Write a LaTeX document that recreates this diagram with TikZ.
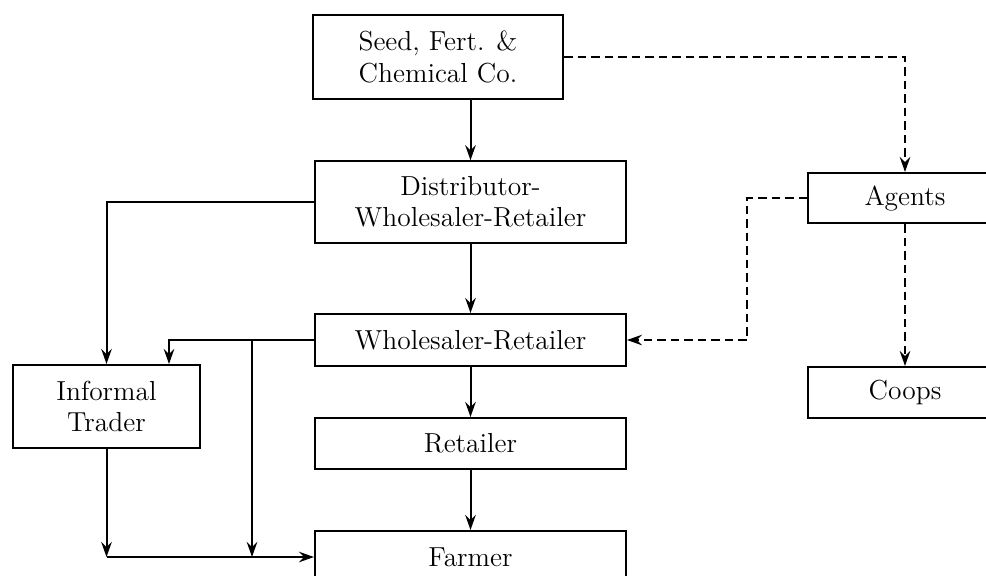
\documentclass[tikz,border=0pt]{standalone}
\usetikzlibrary{arrows.meta}
\tikzset{
    flowbox/.style={draw, line width=0.8pt, align=center, inner sep=0pt,
        font=\fontsize{11}{12.5}\selectfont},
    flowarrow/.style={line width=0.8pt, -{Stealth[length=6pt, width=4.2pt, inset=2pt]}},
    dasharrow/.style={flowarrow, dash pattern=on 3.4pt off 2pt}
}
\begin{document}
\begin{tikzpicture}[x=0.4pt, y=-0.4pt]
    \useasboundingbox (0,0) rectangle (986,575);

    % Main chain
    \node[flowbox, minimum width=100pt, minimum height=33.6pt] (seed) at (438,57) {Seed, Fert. \&\\Chemical Co.};
    \node[flowbox, minimum width=124.4pt, minimum height=32.6pt] (dist) at (470.5,202) {Distributor-\\Wholesaler-Retailer};
    \node[flowbox, minimum width=124.4pt, minimum height=20.8pt] (whr) at (470.5,340) {Wholesaler-Retailer};
    \node[flowbox, minimum width=124.4pt, minimum height=20.4pt] (ret) at (470.5,443.5) {Retailer};
    \node[flowbox, minimum width=124.4pt, minimum height=20.8pt] (farmer) at (470.5,557) {Farmer};

    % Side boxes
    \node[flowbox, minimum width=74.8pt, minimum height=33.2pt] (informal) at (106.5,406.5) {Informal\\Trader};
    \node[flowbox, minimum width=77.6pt, minimum height=20pt] (agents) at (905,198) {Agents};
    \node[flowbox, minimum width=77.6pt, minimum height=20.4pt] (coops) at (905,392.5) {Coops};
    \coordinate (join) at (252,0);

    % Solid flows
    \draw[flowarrow] (seed.south -| dist.north) -- (dist.north);
    \draw[flowarrow] (dist) -- (whr);
    \draw[flowarrow] (whr) -- (ret);
    \draw[flowarrow] (ret) -- (farmer);
    \draw[flowarrow] (dist.west) -| (informal.north);
    \draw[flowarrow] (whr.west) -| ([xshift=-12.8pt]informal.north east);
    \draw[flowarrow] (whr.west -| join) -- (join |- farmer.west);
    \draw[flowarrow] (informal.south) -- (informal.south |- farmer.west);
    \draw[flowarrow] (informal.south |- farmer.west) -- (farmer.west);

    % Dashed flows
    \draw[dasharrow] (seed.east) -| (agents.north);
    \draw[dasharrow] (agents.west) -- ++(-60,0) |- (whr.east);
    \draw[dasharrow] (agents) -- (coops);
\end{tikzpicture}
\end{document}
